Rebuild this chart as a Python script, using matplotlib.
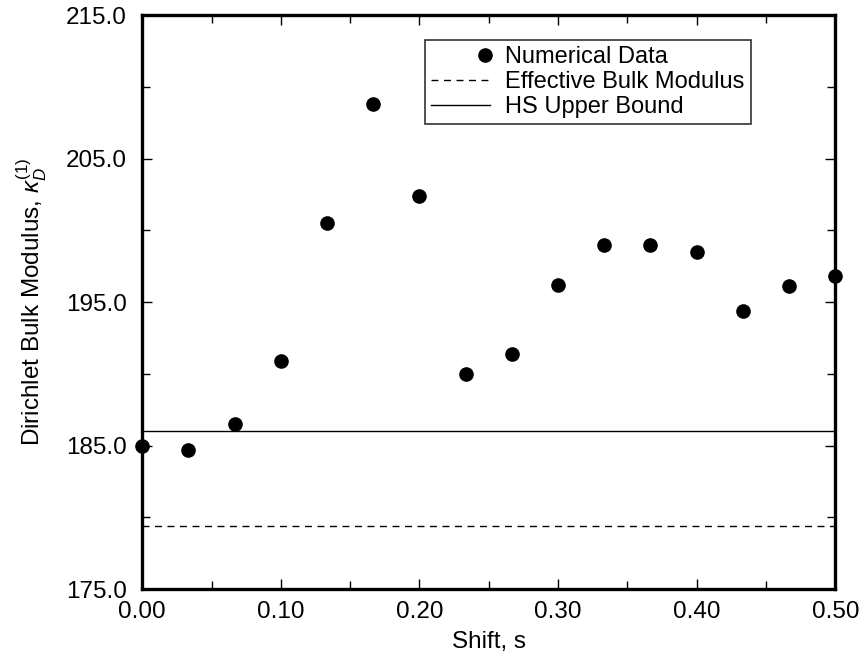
import matplotlib
matplotlib.use("Agg")
import matplotlib.pyplot as plt
from matplotlib.ticker import MultipleLocator, FixedLocator, FormatStrFormatter
from matplotlib.legend_handler import HandlerLine2D
import numpy as np

shift = [0.0, 1/30, 2/30, 3/30, 4/30, 5/30, 6/30, 7/30, 8/30, 9/30,
         10/30, 11/30, 12/30, 13/30, 14/30, 15/30]
kappa = [185.0, 184.7, 186.5, 190.9, 200.5, 208.8, 202.4, 190.0, 191.4, 196.2,
         199.0, 199.0, 198.5, 194.4, 196.1, 196.8]
effective_bulk = 179.4
hs_upper = 186.0
y_major = [175.0, 185.0, 195.0, 205.0, 215.0]
y_minor = [180.0, 190.0, 200.0, 210.0]

plt.rcParams['font.family'] = ['Liberation Sans', 'DejaVu Sans']
plt.rcParams['mathtext.fontset'] = 'custom'
plt.rcParams['mathtext.rm'] = 'Liberation Sans'
plt.rcParams['mathtext.it'] = 'Liberation Sans:italic'


class RightMarkerHandler(HandlerLine2D):
    def get_xdata(self, legend, xdescent, ydescent, width, height, fontsize):
        x0 = -xdescent + 0.84 * width
        x1 = -xdescent + 1.0 * width
        xdata = np.array([x0, x1])
        xm = np.array([0.5 * (x0 + x1)])
        return xdata, xm


fs = 17.5
fig = plt.figure(figsize=(8.62, 6.56), dpi=100)
ax = fig.add_axes([0.165, 0.102, 0.804, 0.875])

pts, = ax.plot(shift, kappa, 'o', color='black', markersize=9.5, clip_on=False,
               label='Numerical Data', zorder=5)
ax.axhline(effective_bulk, color='black', lw=1.0, ls=(0, (5, 4)),
           label='Effective Bulk Modulus')
ax.axhline(hs_upper, color='black', lw=1.0, label='HS Upper Bound')

ax.set_xlim(0, 0.5)
ax.set_ylim(175, 215)
ax.xaxis.set_major_locator(MultipleLocator(0.1))
ax.xaxis.set_minor_locator(MultipleLocator(0.05))
ax.yaxis.set_major_locator(FixedLocator(y_major))
ax.yaxis.set_minor_locator(FixedLocator(y_minor))
ax.xaxis.set_major_formatter(FormatStrFormatter('%.2f'))
ax.yaxis.set_major_formatter(FormatStrFormatter('%.1f'))
ax.tick_params(which='both', direction='in', top=True, right=True,
               labelsize=fs, width=1.0)
ax.tick_params(which='major', length=7)
ax.tick_params(which='minor', length=6)
ax.tick_params(axis='x', which='major', pad=8.5)
ax.tick_params(axis='y', which='major', pad=11)
for s in ax.spines.values():
    s.set_linewidth(2.4)

ax.set_xlabel('Shift, s', fontsize=fs, labelpad=6)
ax.set_ylabel(r'Dirichlet Bulk Modulus, $\kappa_{\mathit{D}}^{\mathit{(1)}}$',
              fontsize=fs, labelpad=12)

leg = ax.legend(loc='upper left', bbox_to_anchor=(0.408, 0.956), fontsize=17,
                frameon=True, fancybox=False, edgecolor='black',
                handlelength=2.5, handletextpad=0.65, borderpad=0.25,
                labelspacing=0.12, borderaxespad=0.0,
                handler_map={pts: RightMarkerHandler()})
leg.get_frame().set_linewidth(1.2)

fig.savefig('out.png', dpi=100, facecolor='white')
